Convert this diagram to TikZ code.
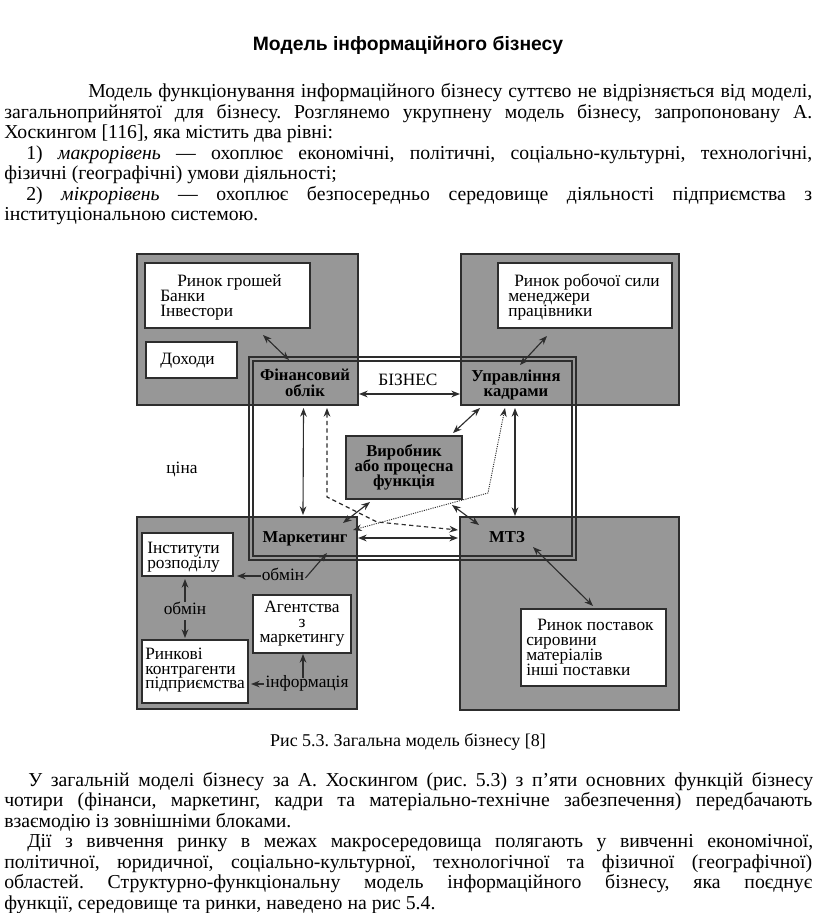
\documentclass[tikz,border=0pt]{standalone}
\usepackage{fontspec}
\setmainfont{Liberation Serif}
\newfontfamily\titlefont{Liberation Sans}
\usetikzlibrary{arrows.meta,calc,fit}
\definecolor{greyfill}{RGB}{151,151,151}
\definecolor{boxline}{RGB}{45,45,45}
\newcommand\jstline[2]{\setbox0=\hbox{#2}\ifdim\wd0>#1\relax\pgfmathsetmacro\myratio{#1/\wd0}\scalebox{\myratio}[1]{\box0}\else\makebox[#1][s]{#2}\fi}
\frenchspacing
\begin{document}
\begin{tikzpicture}[x=0.75pt,y=-0.75pt,
  greybox/.style={draw=boxline, fill=greyfill, line width=1.1pt, inner sep=0pt, outer sep=0pt},
  whitebox/.style={draw=boxline, fill=white, line width=1pt, inner sep=0pt, outer sep=0pt},
  fitbox/.style={inner sep=0pt, outer sep=0pt},
  lbl/.style={font=\fontsize{13}{13}\selectfont, inner sep=0pt, anchor=base west, text height=8.4pt, text depth=2.4pt},
  lblc/.style={lbl, anchor=base},
  bl/.style={font=\bfseries\fontsize{12.5}{12.5}\selectfont, inner sep=0pt, anchor=base, text height=8.4pt, text depth=2.4pt},
  body/.style={font=\fontsize{14.8}{15}\selectfont, inner sep=0pt, anchor=base west},
  frameline/.style={draw=boxline, line width=1pt},
  dbl/.style={{Stealth[length=6.5pt,width=5pt]}-{Stealth[length=6.5pt,width=5pt]}, line width=0.85pt, draw=boxline},
  sgl/.style={-{Stealth[length=6.5pt,width=5pt]}, line width=0.85pt, draw=boxline}
]
\useasboundingbox[fill=white] (0,0) rectangle (816,913);

% ---------- title and upper text ----------
\node[font=\titlefont\bfseries\fontsize{14.5}{14.5}\selectfont, anchor=base, inner sep=0pt] (title) at (408,51) {Модель інформаційного бізнесу};

\node[body] (p1) at (88,98) {\jstline{543pt}{Модель функціонування інформаційного бізнесу суттєво не відрізняється від моделі,}};
\node[body] (p2) at (4,118.4) {\jstline{606pt}{загальноприйнятої для бізнесу. Розглянемо укрупнену модель бізнесу, запропоновану А.}};
\node[body] (p3) at (4,138.8) {Хоскингом [116], яка містить два рівні:};
\node[body] (p4) at (26,159.2) {\jstline{589.5pt}{1)~\textit{макрорівень} — охоплює економічні, політичні, соціально-культурні, технологічні,}};
\node[body] (p5) at (4,179.6) {фізичні (географічні) умови діяльності;};
\node[body] (p6) at (26,200) {\jstline{589.5pt}{2)~\textit{мікрорівень} — охоплює безпосередньо середовище діяльності підприємства з}};
\node[body] (p7) at (4,220.4) {інституціональною системою.};

% ---------- grey quadrants ----------
\node[greybox, fit={(137,254) (358,405)}] (tl) {};
\node[greybox, fit={(461,254) (679,405)}] (tr) {};
\node[greybox, fit={(137,517) (357,709)}] (blq) {};
\node[greybox, fit={(460,517) (679,710)}] (brq) {};

% ---------- white boxes ----------
\node[whitebox, fit={(145,263) (310,328)}] (rg) {};
\node[whitebox, fit={(146,342) (237,378)}] (doh) {};
\node[whitebox, fit={(498,263) (672,328)}] (rr) {};
\node[whitebox, fit={(142,533) (233,576)}] (inst) {};
\node[whitebox, fit={(253,595) (351,653)}] (ag) {};
\node[whitebox, fit={(142,640) (248,703)}] (rk) {};
\node[whitebox, fit={(521,609) (666,686)}] (rp) {};

% ---------- business frame ----------
\node[fitbox, frameline, fit={(249,357) (576,560)}] (frameout) {};
\node[fitbox, frameline, fit={(253,361) (572,556)}] (framein) {};

% function areas
\node[fitbox, fit={(253,361) (358,405)}] (fin) {};
\node[fitbox, fit={(461,361) (572,405)}] (upr) {};
\node[fitbox, fit={(253,517) (357,556)}] (mark) {};
\node[fitbox, fit={(460,517) (572,556)}] (mtz) {};

% central box
\node[greybox, fit={(346,436) (462,499)}] (vir) {};

% ---------- texts in boxes ----------
\node[lbl] (rg1) at (177,286) {Ринок грошей};
\node[lbl] (rg2) at (160,301) {Банки};
\node[lbl] (rg3) at (160,316) {Інвестори};
\node[lbl] (doh1) at (160,364) {Доходи};
\node[lbl] (rr1) at (514,286) {Ринок робочої сили};
\node[lbl] (rr2) at (508,301) {менеджери};
\node[lbl] (rr3) at (508,316) {працівники};

\node[bl] (fin1) at (305,380) {Фінансовий};
\node[bl] (fin2) at (305,396) {облік};
\node[bl] (upr1) at (516,381) {Управління};
\node[bl] (upr2) at (516,396) {кадрами};
\node[lblc] (biz) at (408,385) {БІЗНЕС};

\node[bl] (vir1) at (404,456) {Виробник};
\node[bl] (vir2) at (404,471) {або процесна};
\node[bl] (vir3) at (404,486) {функція};

\node[lblc] (tsina) at (182,473) {ціна};

\node[bl] (mark1) at (305,542) {Маркетинг};
\node[bl] (mtz1) at (507,542) {МТЗ};

\node[lbl] (inst1) at (147,553) {Інститути};
\node[lbl] (inst2) at (147,568) {розподілу};
\node[lblc] (ob1) at (283,580) {обмін};
\node[lblc] (ob2) at (185,614) {обмін};
\node[lblc] (ag1) at (302,612) {Агентства};
\node[lblc] (ag2) at (302,627) {з};
\node[lblc] (ag3) at (302,642) {маркетингу};
\node[lbl] (rk1) at (145,659) {Ринкові};
\node[lbl] (rk2) at (145,674) {контрагенти};
\node[lbl] (rk3) at (145,688) {підприємства};
\node[lblc] (info) at (307,687) {інформація};

\node[lbl] (rp1) at (537,630) {Ринок поставок};
\node[lbl] (rp2) at (526,645) {сировини};
\node[lbl] (rp3) at (526,660) {матеріалів};
\node[lbl] (rp4) at (526,675) {інші поставки};

% ---------- connectors ----------
\draw[dbl] ($(rg.south west)+(118,7)$) -- ($(fin.north west)+(36,-1)$);
\draw[dbl] ($(rr.south west)+(49,8)$) -- ($(upr.north west)+(59,4)$);
\draw[dbl] ($(fin.east)+(1,11)$) -- ($(upr.west)+(-1,11)$);
\draw[dbl] ($(fin.south)+(-2,3)$) -- ($(mark.north)+(-2,-2)$);
\draw[dbl, dash pattern=on 3.2pt off 2.4pt] ($(fin.south west)+(74,3)$) -- ++(0,89) -- ++(50,25) -- ($(mtz.west)+(-2,-6.5)$);
\draw[dbl, line width=0.7pt, dash pattern=on 0.8pt off 0.9pt] ($(mark.east)+(-4,-6.5)$) -- ($(upr.south west)+(27,88)$) -- ($(upr.south west)+(44,3)$);
\draw[dbl] ($(vir.south west)+(24,3)$) -- ($(mark.north east)+(-14,6)$);
\draw[dbl] ($(vir.north east)+(-9,-3)$) -- ($(upr.south west)+(19,3)$);
\draw[dbl] ($(vir.south east)+(-10,6)$) -- ($(mtz.north west)+(19,8)$);
\draw[dbl] ($(mark.east)+(1,1.5)$) -- ($(mtz.west)+(-2,1.5)$);
\draw[dbl] ($(upr.south)+(-1.5,3)$) -- ($(mtz.north)+(-1,-1)$);
\draw[dbl] ($(mtz.south west)+(73,-9)$) -- ($(rp.north west)+(72,-3)$);

\draw[sgl] ($(ob1.west)+(-1,0)$) -- ($(ob1.west -| inst.east)+(4,0)$);
\draw[sgl] ($(ob1.east)+(1,2)$) -- ($(mark.south west)+(74,-3)$);
\draw[sgl] ($(ob2.north)+(0,-1)$) -- ($(inst.south west)+(43,3)$);
\draw[sgl] ($(ob2.south)+(0,3)$) -- ($(rk.north west)+(43,-2)$);
\draw[sgl] ($(info.west)+(-1,1)$) -- ($(info.west -| rk.east)+(3,1)$);
\draw[sgl] ($(info.north -| ag.south)+(1,2)$) -- ($(ag.south)+(1,1)$);

% ---------- caption and lower text ----------
\node[font=\fontsize{13.5}{15}\selectfont, inner sep=0pt, anchor=base] (cap) at (408,746) {Рис 5.3. Загальна модель бізнесу [8]};

\node[body] (q1) at (28,786) {\jstline{588.75pt}{У загальній моделі бізнесу за А. Хоскингом (рис. 5.3) з п’яти основних функцій бізнесу}};
\node[body] (q2) at (4,806.5) {\jstline{606pt}{чотири (фінанси, маркетинг, кадри та матеріально-технічне забезпечення) передбачають}};
\node[body] (q3) at (4,827) {взаємодію із зовнішніми блоками.};
\node[body] (q4) at (27,847.5) {\jstline{589.5pt}{Дії з вивчення ринку в межах макросередовища полягають у вивченні економічної,}};
\node[body] (q5) at (4,868) {\jstline{606pt}{політичної, юридичної, соціально-культурної, технологічної та фізичної (географічної)}};
\node[body] (q6) at (4,888.5) {\jstline{606pt}{областей. Структурно-функціональну модель інформаційного бізнесу, яка поєднує}};
\node[body] (q7) at (4,909) {функції, середовище та ринки, наведено на рис 5.4.};
\end{tikzpicture}
\end{document}
